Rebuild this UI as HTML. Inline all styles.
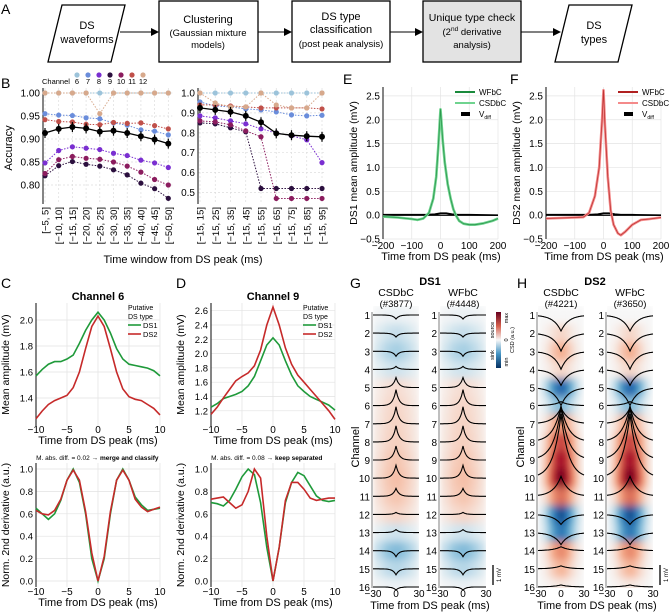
<!DOCTYPE html>
<html><head><meta charset="utf-8"><style>
html,body{margin:0;padding:0;background:#fff}
svg{display:block;font-family:"Liberation Sans",Arial,sans-serif}
</style></head><body>
<svg id="fig" width="669" height="612" viewBox="0 0 669 612" xmlns="http://www.w3.org/2000/svg">
<defs>
<linearGradient id="cbar" x1="0" y1="0" x2="0" y2="1">
<stop offset="0" stop-color="#67001f"/><stop offset="0.25" stop-color="#d6604d"/><stop offset="0.5" stop-color="#f7f7f7"/><stop offset="0.75" stop-color="#4393c3"/><stop offset="1" stop-color="#053061"/>
</linearGradient>
<filter id="blur" x="-10%" y="-5%" width="120%" height="110%"><feGaussianBlur stdDeviation="2.5 4"/></filter>
<marker id="arr" markerWidth="8" markerHeight="8" refX="7" refY="4" orient="auto"><path d="M0,0 L8,4 L0,8 z" fill="#000"/></marker>
</defs>
<g font-size="11">
<text x="1" y="14" font-size="14">A</text>
<polygon points="62,5 125,5 111,62 48,62" fill="#fff" stroke="#000" stroke-width="1.3"/>
<text x="87" y="29" text-anchor="middle">DS</text>
<text x="87" y="43" text-anchor="middle">waveforms</text>
<line x1="120" y1="32" x2="158" y2="32" stroke="#000" marker-end="url(#arr)"/>
<rect x="159" y="1" width="99" height="61" fill="#fff" stroke="#000" stroke-width="1.3"/>
<text x="208" y="23" text-anchor="middle">Clustering</text>
<text x="208" y="36" text-anchor="middle" font-size="9.5">(Gaussian mixture</text>
<text x="208" y="48" text-anchor="middle" font-size="9.5">models)</text>
<line x1="258" y1="32" x2="291" y2="32" stroke="#000" marker-end="url(#arr)"/>
<rect x="292" y="1" width="98" height="61" fill="#fff" stroke="#000" stroke-width="1.3"/>
<text x="341" y="20" text-anchor="middle">DS type</text>
<text x="341" y="33" text-anchor="middle">classification</text>
<text x="341" y="47" text-anchor="middle" font-size="9.5">(post peak analysis)</text>
<line x1="390" y1="32" x2="422" y2="32" stroke="#000" marker-end="url(#arr)"/>
<rect x="423" y="1" width="98" height="61" fill="#e3e3e3" stroke="#000" stroke-width="1.3"/>
<text x="472" y="21" text-anchor="middle" font-size="10.5">Unique type check</text>
<text x="472" y="35" text-anchor="middle" font-size="9.5">(2<tspan font-size="6.5" dy="-4">nd</tspan><tspan dy="4"> derivative</tspan></text>
<text x="472" y="48" text-anchor="middle" font-size="9.5">analysis)</text>
<line x1="521" y1="32" x2="560" y2="32" stroke="#000" marker-end="url(#arr)"/>
<polygon points="569,5 632,5 618,62 555,62" fill="#fff" stroke="#000" stroke-width="1.3"/>
<text x="594" y="29" text-anchor="middle">DS</text>
<text x="594" y="43" text-anchor="middle">types</text>
</g>
<text x="1" y="88" font-size="14">B</text>
<text x="343" y="84" font-size="14">E</text>
<text x="510" y="84" font-size="14">F</text>
<text x="1" y="288" font-size="14">C</text>
<text x="176" y="288" font-size="14">D</text>
<text x="350" y="288" font-size="14">G</text>
<text x="517" y="288" font-size="14">H</text>
</svg>
<script>
// ---------- Panel B data ----------
const bLeftCats = ["[\u22125, 5]","[\u221210, 10]","[\u221215, 15]","[\u221220, 20]","[\u221225, 25]","[\u221230, 30]","[\u221235, 35]","[\u221240, 40]","[\u221245, 45]","[\u221250, 50]"];
const bRightCats = ["[\u221215, 15]","[\u221215, 25]","[\u221215, 35]","[\u221215, 45]","[\u221215, 55]","[\u221215, 65]","[\u221215, 75]","[\u221215, 85]","[\u221215, 95]"];
const bChannels = [6,7,8,9,10,11,12];
const bColors = ["#9cc3da","#6a8ddb","#7a2fd1","#2b0f3e","#8b1c5e","#c0504a","#d7a98c"];
const bLeftCh6 = [1,1,1,1,1,1,1,1,1,1];
const bLeftCh7 = [.955,.952,.951,.946,.944,.935,.930,.920,.917,.909];
const bLeftCh8 = [.848,.875,.883,.880,.877,.869,.864,.854,.848,.838];
const bLeftCh9 = [.820,.842,.851,.845,.841,.833,.822,.804,.792,.771];
const bLeftCh10 = [.825,.855,.862,.858,.856,.850,.841,.828,.812,.800];
const bLeftCh11 = [.942,.938,.937,.932,.931,.936,.934,.935,.929,.922];
const bLeftCh12 = [1,1,1,1,.955,1,1,1,1,1];
const bLeftMean = [.913,.922,.926,.923,.916,.918,.913,.906,.899,.890];
const bRightCh6 = [1,1,1,1,1,1,1,1,1];
const bRightCh7 = [.955,.935,.930,.920,.915,.905,.890,.885,.888];
const bRightCh8 = [.885,.875,.860,.845,.820,.800,.785,.765,.650];
const bRightCh9 = [.850,.845,.825,.805,.520,.520,.520,.520,.520];
const bRightCh10 = [.860,.855,.840,.810,.780,.470,.470,.470,.470];
const bRightCh11 = [.940,.940,.935,.930,.925,.925,.925,.925,.920];
const bRightCh12 = [1,.950,.930,.930,1,.940,.925,.925,1];
const bRightMean = [.925,.915,.905,.885,.853,.797,.788,.783,.780];
const bLeftTicks = [0.80,0.85,0.90,0.95,1.00];
const bRightTicks = [0.5,0.6,0.7,0.8,0.9,1.0];

// ---------- Panel C / D data ----------
const cdTime = [-10,-9,-8,-7,-6,-5,-4,-3,-2,-1,0,1,2,3,4,5,6,7,8,9,10];
const cAmpDS1 = [1.57,1.62,1.66,1.68,1.68,1.70,1.73,1.82,1.92,2.00,2.06,2.00,1.90,1.78,1.70,1.66,1.65,1.64,1.63,1.61,1.57];
const cAmpDS2 = [1.24,1.30,1.35,1.38,1.40,1.42,1.48,1.60,1.78,1.95,2.03,1.95,1.78,1.60,1.47,1.41,1.39,1.38,1.35,1.32,1.27];
const dAmpDS1 = [1.25,1.30,1.37,1.40,1.43,1.47,1.55,1.68,1.90,2.12,2.22,2.12,1.90,1.70,1.55,1.47,1.40,1.36,1.32,1.28,1.21];
const dAmpDS2 = [1.15,1.25,1.38,1.50,1.62,1.68,1.73,1.83,2.05,2.40,2.65,2.40,2.08,1.85,1.70,1.60,1.50,1.40,1.30,1.20,1.08];
const cDerDS1 = [.65,.60,.55,.60,.72,.90,1.00,.88,.60,.20,0,.20,.60,.90,1.00,.90,.75,.68,.63,.64,.65];
const cDerDS2 = [.63,.60,.59,.63,.73,.90,.99,.90,.62,.25,0,.22,.62,.90,.99,.90,.73,.66,.62,.64,.66];
const dDerDS1 = [.70,.69,.67,.72,.82,.93,1.00,.95,.70,.30,0,.30,.70,.88,.97,.94,.85,.76,.72,.71,.72];
const dDerDS2 = [.73,.74,.75,.70,.65,.68,.80,1.00,.92,.40,0,.30,.72,.88,.88,.82,.74,.72,.73,.74,.74];
const cAmpTicks = [1.4,1.6,1.8,2.0];
const dAmpTicks = [1.2,1.4,1.6,1.8,2.0,2.2,2.4,2.6];
const derTicks = [0,0.2,0.4,0.6,0.8,1.0];
const cdXTicks = [-10,-5,0,5,10];

// ---------- Panel E / F data ----------
const eTime = [-200,-150,-100,-80,-60,-40,-25,-15,-8,0,8,15,25,35,45,55,65,80,100,120,150,180,200];
const eDS1 = [-0.03,-0.05,-0.08,-0.10,-0.07,0.05,0.35,0.80,1.40,2.22,1.55,1.10,0.65,0.35,0.12,-0.02,-0.12,-0.18,-0.20,-0.20,-0.17,-0.12,-0.07];
const fTime = [-200,-150,-100,-70,-50,-30,-15,-5,0,5,15,25,35,50,60,75,100,130,160,200];
const fDS2 = [-0.07,-0.06,-0.05,-0.04,0.05,0.40,1.00,2.00,2.62,1.90,0.80,0.10,-0.20,-0.38,-0.42,-0.35,-0.20,-0.10,-0.08,-0.05];
const vdiffTime = [-200,-100,-50,-20,0,20,40,60,100,200];
const vdiffVal = [0.01,0.01,0.01,0.02,0.04,0.04,0.02,0.01,0.01,0.0];
const efYTicks = [-0.5,0,0.5,1.0,1.5,2.0,2.5];
const efXTicks = [-200,-100,0,100,200];

// ---------- Panel G / H data ----------
const channels = [1,2,3,4,5,6,7,8,9,10,11,12,13,14,15,16];
const gCsd = [-0.03,-0.12,-0.2,-0.1,0.08,0.1,0.11,0.12,0.15,0.17,0.15,0.1,-0.1,-0.3,-0.16,-0.03];
const hCsd = [0,0.1,0.22,0.1,-0.75,-0.3,0.3,0.6,0.8,0.95,0.45,-0.85,-0.65,0.35,0.2,0.05];
const gAmp = [-0.2,-0.2,-0.25,0.15,0.5,0.8,0.85,0.8,0.7,0.65,0.4,0.1,0.15,-0.3,-0.3,-0.15];
const hAmp = [-0.8,-0.9,-0.9,-0.8,-0.9,0.2,0.8,1.8,2.6,3.2,1.0,-0.5,-0.6,0.2,0.15,0.1];
const ghXTicks = [-30,0,30];

const svg = document.getElementById('fig');
const NS = 'http://www.w3.org/2000/svg';
function mk(tag, attrs, name, parent) {
  const el = document.createElementNS(NS, tag);
  for (const k in attrs) el.setAttribute(k, attrs[k]);
  
  
  (parent || svg).appendChild(el);
  return el;
}
function txt(x, y, s, name, opts) {
  const el = mk('text', Object.assign({x: x, y: y, 'font-size': 10}, opts || {}), name);
  el.textContent = s;
  return el;
}
function fmt(v, d) { const s = v.toFixed(d); return s.replace('-', '\u2212'); }
function poly(xs, ys, fx, fy, attrs, name) {
  const pts = xs.map((x, i) => fx(x).toFixed(1) + ',' + fy(ys[i]).toFixed(1)).join(' ');
  return mk('polyline', Object.assign({points: pts, fill: 'none'}, attrs), name);
}

// ===== Panel B =====
(function () {
  txt(42, 84, 'Channel', 'b-legend-title', {'font-size': 7.5});
  bChannels.forEach((c, i) => {
    const x = 77 + i * 11;
    mk('circle', {cx: x, cy: 75, r: 2.6, fill: bColors[i]}, 'b-legend-dot-ch' + c);
    txt(x, 84, String(c), 'b-legend-label-ch' + c, {'font-size': 7.5, 'text-anchor': 'middle'});
  });
  function panel(cats, series, mean, ticks, x0, step, yTop, yScale, dec, side) {
    const fx = i => x0 + i * step;
    const fy = v => yTop + (1 - v) * yScale;
    const axisX = x0 - 2, right = fx(cats.length - 1) + 4;
    const bottom = 204;
    ticks.forEach(t => {
      mk('line', {x1: axisX, x2: right, y1: fy(t), y2: fy(t), stroke: '#ddd', 'stroke-dasharray': '2,2', 'stroke-width': 0.7}, 'b-' + side + '-gridline-y');
      txt(axisX - 3, fy(t) + 3.5, t.toFixed(dec), 'b-' + side + '-y-tick-label', {'text-anchor': 'end', 'font-size': 10});
    });
    cats.forEach((c, i) => {
      mk('line', {x1: fx(i), x2: fx(i), y1: 88, y2: bottom, stroke: '#ddd', 'stroke-dasharray': '2,2', 'stroke-width': 0.7}, 'b-' + side + '-gridline-x');
      txt(fx(i) + 3.5, 207, c, 'b-' + side + '-x-tick-label', {'text-anchor': 'end', 'font-size': 9.5, transform: 'rotate(-90 ' + (fx(i) + 3.5) + ' 207)'});
    });
    mk('line', {x1: axisX, y1: 88, x2: axisX, y2: bottom, stroke: '#333', 'stroke-width': 1.2}, 'b-' + side + '-y-axis');
    series.forEach((s, k) => {
      poly(s.map((_, i) => i), s, fx, fy, {stroke: bColors[k], 'stroke-width': 1, 'stroke-dasharray': '1.5,1.5'}, 'b-' + side + '-line-ch' + bChannels[k]);
      s.forEach((v, i) => mk('circle', {cx: fx(i), cy: fy(v), r: 2.6, fill: bColors[k]}, 'b-' + side + '-point-ch' + bChannels[k]));
    });
    poly(mean.map((_, i) => i), mean, fx, fy, {stroke: '#000', 'stroke-width': 1.3}, 'b-' + side + '-mean-line');
    mean.forEach((v, i) => {
      mk('line', {x1: fx(i), x2: fx(i), y1: fy(v) - 5, y2: fy(v) + 5, stroke: '#000', 'stroke-width': 1.2}, 'b-' + side + '-mean-errorbar');
      mk('circle', {cx: fx(i), cy: fy(v), r: 3, fill: '#000'}, 'b-' + side + '-mean-point');
    });
  }
  panel(bLeftCats, [bLeftCh6, bLeftCh7, bLeftCh8, bLeftCh9, bLeftCh10, bLeftCh11, bLeftCh12], bLeftMean, bLeftTicks, 45, 13.7, 93, 460, 2, 'left');
  panel(bRightCats, [bRightCh6, bRightCh7, bRightCh8, bRightCh9, bRightCh10, bRightCh11, bRightCh12], bRightMean, bRightTicks, 200, 15.25, 93, 199, 1, 'right');
  txt(12, 148, 'Accuracy', 'b-y-axis-title', {'text-anchor': 'middle', 'font-size': 11, transform: 'rotate(-90 12 148)'});
  txt(183, 263, 'Time window from DS peak (ms)', 'b-x-axis-title', {'text-anchor': 'middle', 'font-size': 11});
})();

// ===== Panels C / D =====
(function () {
  function linePanel(x0, fy, ticks, dec, top, bottom, s1, s2, name, xTickY, ylab, ylabX) {
    const fx = t => x0 + (t + 10) * 6.2;
    ticks.forEach(t => {
      mk('line', {x1: x0, x2: x0 + 124, y1: fy(t), y2: fy(t), stroke: '#e2e2e2', 'stroke-width': 0.7}, name + '-gridline-y');
      txt(x0 - 3, fy(t) + 3.5, t.toFixed(dec), name + '-y-tick-label', {'text-anchor': 'end', 'font-size': 9.5});
    });
    cdXTicks.forEach(t => {
      mk('line', {x1: fx(t), x2: fx(t), y1: top, y2: bottom, stroke: '#e2e2e2', 'stroke-width': 0.7}, name + '-gridline-x');
      txt(fx(t), xTickY, fmt(t, 0), name + '-x-tick-label', {'text-anchor': 'middle', 'font-size': 10});
    });
    mk('line', {x1: x0, x2: x0, y1: top, y2: bottom, stroke: '#333', 'stroke-width': 1.2}, name + '-y-axis');
    poly(cdTime, s1, fx, fy, {stroke: '#1f9a3a', 'stroke-width': 1.6}, name + '-ds1-line');
    poly(cdTime, s2, fx, fy, {stroke: '#c62a2a', 'stroke-width': 1.6}, name + '-ds2-line');
    txt(x0 + 62, xTickY + 11, 'Time from DS peak (ms)', name + '-x-axis-title', {'text-anchor': 'middle', 'font-size': 11});
    txt(ylabX, (top + bottom) / 2, ylab, name + '-y-axis-title', {'text-anchor': 'middle', 'font-size': 10.5, transform: 'rotate(-90 ' + ylabX + ' ' + (top + bottom) / 2 + ')'});
  }
  const fyC = v => 346 - (v - 1.8) * 130;
  const fyD = v => 325 - (v - 2.4) * 71.5;
  const fyDer = v => 581 - v * 112;
  linePanel(36, fyC, cAmpTicks, 1, 303, 426, cAmpDS1, cAmpDS2, 'c-amp', 433, 'Mean amplitude (mV)', 9);
  linePanel(211, fyD, dAmpTicks, 1, 303, 426, dAmpDS1, dAmpDS2, 'd-amp', 433, 'Mean amplitude (mV)', 184);
  linePanel(36, fyDer, derTicks, 1, 463, 587, cDerDS1, cDerDS2, 'c-deriv', 595, 'Norm. 2nd derivative (a.u.)', 9);
  linePanel(211, fyDer, derTicks, 1, 463, 587, dDerDS1, dDerDS2, 'd-deriv', 595, 'Norm. 2nd derivative (a.u.)', 184);
  txt(98, 300, 'Channel 6', 'c-title', {'text-anchor': 'middle', 'font-size': 11, 'font-weight': 'bold'});
  txt(273, 300, 'Channel 9', 'd-title', {'text-anchor': 'middle', 'font-size': 11, 'font-weight': 'bold'});
  txt(98, 460, 'M. abs. diff. = 0.02 \u2192', 'c-diff-note', {'text-anchor': 'end', 'font-size': 6.5});
  txt(100, 460, 'merge and classify', 'c-diff-verdict', {'font-size': 6.5, 'font-weight': 'bold'});
  txt(273, 460, 'M. abs. diff. = 0.08 \u2192', 'd-diff-note', {'text-anchor': 'end', 'font-size': 6.5});
  txt(275, 460, 'keep separated', 'd-diff-verdict', {'font-size': 6.5, 'font-weight': 'bold'});
  [[128, 'c'], [303, 'd']].forEach(([x, p]) => {
    txt(x, 310, 'Putative', p + '-legend-title', {'font-size': 7});
    txt(x, 319, 'DS type', p + '-legend-title-2', {'font-size': 7});
    mk('line', {x1: x, x2: x + 13, y1: 325, y2: 325, stroke: '#1f9a3a', 'stroke-width': 1.6}, p + '-legend-ds1-swatch');
    txt(x + 15, 328, 'DS1', p + '-legend-ds1', {'font-size': 7.5});
    mk('line', {x1: x, x2: x + 13, y1: 334, y2: 334, stroke: '#c62a2a', 'stroke-width': 1.6}, p + '-legend-ds2-swatch');
    txt(x + 15, 337, 'DS2', p + '-legend-ds2', {'font-size': 7.5});
  });
})();

// ===== Panels E / F =====
(function () {
  const fy = v => 239 - (v + 0.5) * 47.7;
  function ef(x0, times, vals, dark, light, name, ylab) {
    const fx = t => x0 + (t + 200) * 0.2875;
    efYTicks.forEach(t => {
      mk('line', {x1: x0, x2: x0 + 115, y1: fy(t), y2: fy(t), stroke: '#e4e4e4', 'stroke-width': 0.7}, name + '-gridline-y');
      txt(x0 - 3, fy(t) + 3.5, fmt(t, 1), name + '-y-tick-label', {'text-anchor': 'end', 'font-size': 10});
    });
    efXTicks.forEach(t => {
      mk('line', {x1: fx(t), x2: fx(t), y1: 87, y2: 239, stroke: '#e4e4e4', 'stroke-width': 0.7}, name + '-gridline-x');
      txt(fx(t), 249, fmt(t, 0), name + '-x-tick-label', {'text-anchor': 'middle', 'font-size': 10});
    });
    mk('line', {x1: x0, x2: x0, y1: 87, y2: 239, stroke: '#333', 'stroke-width': 1.2}, name + '-y-axis');
    mk('line', {x1: fx(-200), x2: fx(200), y1: fy(0), y2: fy(0), stroke: '#000', 'stroke-width': 1.4}, name + '-vdiff-baseline');
    poly(vdiffTime, vdiffVal, fx, fy, {stroke: '#000', 'stroke-width': 1.6}, name + '-vdiff-line');
    poly(times, vals, fx, fy, {stroke: light, 'stroke-width': 2.6, 'stroke-linejoin': 'round'}, name + '-csdbc-line');
    poly(times, vals, fx, fy, {stroke: dark, 'stroke-width': 0.8, 'stroke-linejoin': 'round', opacity: 0.8}, name + '-wfbc-line');
    txt(x0 + 58, 260, 'Time from DS peak (ms)', name + '-x-axis-title', {'text-anchor': 'middle', 'font-size': 11});
    const yx = x0 - 26;
    txt(yx, 163, ylab, name + '-y-axis-title', {'text-anchor': 'middle', 'font-size': 10.5, transform: 'rotate(-90 ' + yx + ' 163)'});
    const lx = x0 + 72;
    mk('line', {x1: lx, x2: lx + 20, y1: 92, y2: 92, stroke: dark, 'stroke-width': 2}, name + '-legend-wfbc-swatch');
    txt(lx + 24, 95, 'WFbC', name + '-legend-wfbc', {'font-size': 8});
    mk('line', {x1: lx, x2: lx + 20, y1: 103, y2: 103, stroke: light, 'stroke-width': 2}, name + '-legend-csdbc-swatch');
    txt(lx + 24, 106, 'CSDbC', name + '-legend-csdbc', {'font-size': 8});
    mk('rect', {x: lx + 6, y: 112, width: 9, height: 4, fill: '#000'}, name + '-legend-vdiff-swatch');
    const v = txt(lx + 24, 117, 'V', name + '-legend-vdiff', {'font-size': 8});
    const sub = document.createElementNS(NS, 'tspan'); sub.setAttribute('font-size', 5); sub.setAttribute('dy', 2); sub.textContent = 'diff';
    v.appendChild(sub);
  }
  ef(383, eTime, eDS1, '#1a8a3c', '#6fd38f', 'e', 'DS1 mean amplitude (mV)');
  ef(546, fTime, fDS2, '#b02020', '#f48a8a', 'f', 'DS2 mean amplitude (mV)');
})();

// ===== Panels G / H =====
(function () {
  const fyc = c => 315 + (c - 1) * 18.13;
  function cmap(v) {
    const a = Math.min(1, Math.abs(v));
    const pos = [[247,247,247],[244,165,130],[214,96,77],[178,24,43],[103,0,31]];
    const neg = [[247,247,247],[146,197,222],[67,147,195],[33,102,172],[5,48,97]];
    const st = v >= 0 ? pos : neg;
    const f = a * 4, i = Math.min(3, Math.floor(f)), r = f - i;
    const c = st[i].map((q, k) => Math.round(q + (st[i + 1][k] - q) * r));
    return 'rgb(' + c.join(',') + ')';
  }
  function sub(x0, csd, amp, tau, width, name, title, count) {
    const fx = t => x0 + (t + 30) * (46 / 60);
    const clip = mk('clipPath', {id: 'clip-' + name}, name + '-clip');
    mk('rect', {x: fx(-30), y: 306, width: 46, height: 282}, name + '-clip-rect', clip);
    const g = mk('g', {'clip-path': 'url(#clip-' + name + ')'}, name + '-heatmap');
    const gb = mk('g', {filter: 'url(#blur)'}, name + '-heatmap-blur', g);
    channels.forEach((c, ci) => {
      for (let k = 0; k < 24; k++) {
        const t = -30 + k * 2.5 + 1.25;
        const v = csd[ci] * Math.exp(-Math.pow(t / width, 2));
        mk('rect', {x: fx(t - 1.25), y: fyc(c) - 9.1, width: 2.1, height: 18.6, fill: cmap(v)}, name + '-heatmap-cell', gb);
      }
    });
    mk('line', {x1: fx(-30) - 1, x2: fx(-30) - 1, y1: 312, y2: 588, stroke: '#aaa', 'stroke-width': 1.5}, name + '-y-axis');
    channels.forEach((c, ci) => {
      txt(fx(-30) - 3, fyc(c) + 4, String(c), name + '-y-tick-label', {'text-anchor': 'end', 'font-size': 10});
      const pts = [];
      for (let t = -30; t <= 30; t += 1) {
        pts.push(fx(t).toFixed(1) + ',' + (fyc(c) - amp[ci] * 20 * Math.exp(-Math.abs(t) / tau)).toFixed(1));
      }
      mk('polyline', {points: pts.join(' '), fill: 'none', stroke: '#000', 'stroke-width': 1.1}, name + '-trace-ch' + c);
    });
    ghXTicks.forEach(t => txt(fx(t), 597, fmt(t, 0), name + '-x-tick-label', {'text-anchor': 'middle', 'font-size': 10}));
    txt(fx(0), 296, title, name + '-title', {'text-anchor': 'middle', 'font-size': 10.5});
    txt(fx(0), 307, count, name + '-count', {'text-anchor': 'middle', 'font-size': 9.5});
  }
  sub(373, gCsd, gAmp, 4, 26, 'g-csdbc', 'CSDbC', '(#3877)');
  sub(440, gCsd, gAmp, 4, 26, 'g-wfbc', 'WFbC', '(#4448)');
  sub(538, hCsd, hAmp, 10, 16, 'h-csdbc', 'CSDbC', '(#4221)');
  sub(607, hCsd, hAmp, 10, 16, 'h-wfbc', 'WFbC', '(#3650)');
  txt(430, 285, 'DS1', 'g-title', {'text-anchor': 'middle', 'font-size': 11, 'font-weight': 'bold'});
  txt(595, 285, 'DS2', 'h-title', {'text-anchor': 'middle', 'font-size': 11, 'font-weight': 'bold'});
  txt(430, 609, 'Time from DS peak (ms)', 'g-x-axis-title', {'text-anchor': 'middle', 'font-size': 11});
  txt(597, 609, 'Time from DS peak (ms)', 'h-x-axis-title', {'text-anchor': 'middle', 'font-size': 11});
  txt(359, 447, 'Channel', 'g-y-axis-title', {'text-anchor': 'middle', 'font-size': 11, transform: 'rotate(-90 359 447)'});
  txt(524, 447, 'Channel', 'h-y-axis-title', {'text-anchor': 'middle', 'font-size': 11, transform: 'rotate(-90 524 447)'});
  mk('rect', {x: 496, y: 312, width: 5, height: 56, fill: 'url(#cbar)'}, 'csd-colorbar');
  txt(494, 330, 'source', 'colorbar-source-label', {'font-size': 5.5, 'text-anchor': 'middle', transform: 'rotate(-90 494 330)'});
  txt(508, 318, 'max', 'colorbar-max-label', {'font-size': 5.5, 'text-anchor': 'middle', transform: 'rotate(-90 508 318)'});
  txt(494, 355, 'sink', 'colorbar-sink-label', {'font-size': 5.5, 'text-anchor': 'middle', transform: 'rotate(-90 494 355)'});
  txt(508, 362, 'min', 'colorbar-min-label', {'font-size': 5.5, 'text-anchor': 'middle', transform: 'rotate(-90 508 362)'});
  txt(508, 340, '0', 'colorbar-zero-label', {'font-size': 5.5, 'text-anchor': 'middle', transform: 'rotate(-90 508 340)'});
  txt(514, 340, 'CSD (a.u.)', 'colorbar-title', {'font-size': 5.5, 'text-anchor': 'middle', transform: 'rotate(-90 514 340)'});
  [[493, 'g'], [660, 'h']].forEach(([x, p]) => {
    mk('line', {x1: x, x2: x, y1: 565, y2: 585, stroke: '#000', 'stroke-width': 1.3}, p + '-scale-bar');
    txt(x + 8, 575, '1 mV', p + '-scale-bar-label', {'font-size': 6, 'text-anchor': 'middle', transform: 'rotate(-90 ' + (x + 8) + ' 575)'});
  });
})();
</script>
</body></html>
